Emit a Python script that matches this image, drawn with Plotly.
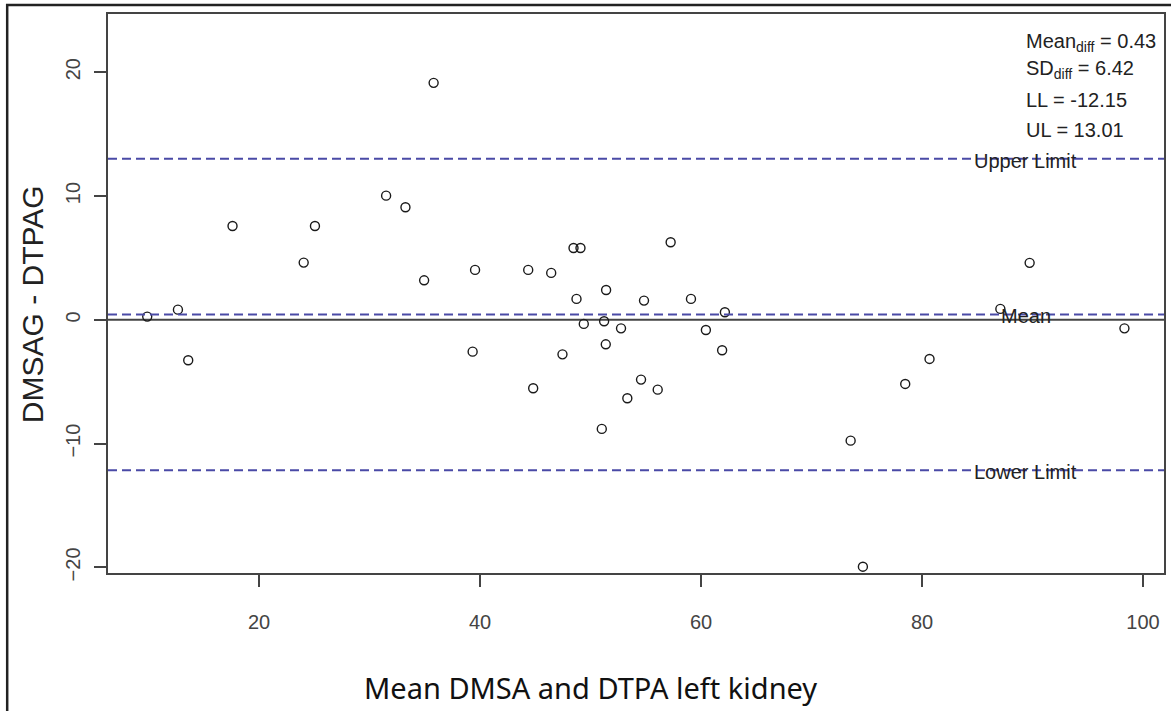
import plotly.graph_objects as go

# Bland-Altman data: mean of DMSA and DTPA (x) vs difference (y)
mean_vals = [35.8, 31.5, 33.25, 17.6, 25.06, 24.04, 34.94,
             57.25, 48.46, 49.09, 39.55, 44.36, 46.44, 51.41, 48.73, 54.84, 59.09,
             62.16, 49.39, 51.23, 52.76, 60.44, 39.33, 47.46, 51.38, 61.91,
             44.81, 54.57, 56.08, 53.33, 51.02,
             9.88, 12.66, 13.59,
             87.09, 98.32, 80.68, 78.48, 73.54, 74.65, 89.74]
diff_vals = [19.14, 10.03, 9.09, 7.58, 7.58, 4.62, 3.19,
             6.26, 5.80, 5.80, 4.03, 4.03, 3.79, 2.41, 1.69, 1.55, 1.69,
             0.61, -0.33, -0.12, -0.69, -0.82, -2.57, -2.79, -1.98, -2.46,
             -5.53, -4.83, -5.64, -6.34, -8.81,
             0.26, 0.82, -3.27,
             0.88, -0.69, -3.16, -5.18, -9.76, -19.94, 4.60]

mean_diff = 0.43
sd_diff = 6.42
lower_limit = -12.15
upper_limit = 13.01

x_ticks = [20, 40, 60, 80, 100]
y_ticks = [-20, -10, 0, 10, 20]
x_range = [6.33, 101.9]
y_range = [-20.45, 24.7]

label_x = 89.4
stats_lines = [f"Mean<sub>diff</sub> = {mean_diff:.2f}",
               f"SD<sub>diff</sub> = {sd_diff:.2f}",
               f"LL = {lower_limit:.2f}",
               f"UL = {upper_limit:.2f}"]
stats_y = [22.39, 20.2, 17.78, 15.36]

W, H = 1171, 711
ML, MR, MT, MB = 108, 5, 14, 138

fig = go.Figure()
fig.add_trace(go.Scatter(
    x=mean_vals, y=diff_vals, mode="markers",
    marker=dict(symbol="circle-open", size=9, color="#1a1a1a", line=dict(width=1.4)),
    showlegend=False, hoverinfo="x+y"))

dash_color = "#4a4aa6"
for yv in [upper_limit, mean_diff, lower_limit]:
    fig.add_shape(type="line", xref="paper", x0=0, x1=1, yref="y", y0=yv, y1=yv,
                  line=dict(color=dash_color, width=2, dash="9px,5px"), layer="above")
fig.add_shape(type="line", xref="paper", x0=0, x1=1, yref="y", y0=0, y1=0,
              line=dict(color="#444444", width=2), layer="below")

lab_font = dict(family="Liberation Sans, Arial, sans-serif", size=20, color="#222222")
for txt, yv in [("Upper Limit", upper_limit), ("Mean", mean_diff), ("Lower Limit", lower_limit)]:
    fig.add_annotation(x=label_x, y=yv, text=txt, showarrow=False, font=lab_font,
                       xanchor="center", yanchor="middle", yshift=-2)

for txt, yv in zip(stats_lines, stats_y):
    fig.add_annotation(x=label_x, y=yv, text=txt, showarrow=False,
                       font=dict(family="Liberation Sans, Arial, sans-serif", size=20, color="#222222"),
                       xanchor="left", yanchor="middle", xshift=-2)

# axis titles
pw = W - ML - MR
ph = H - MT - MB
fig.add_annotation(xref="paper", yref="paper", x=(591 - ML) / pw, y=0, yshift=-114,
                   text="Mean DMSA and DTPA left kidney", showarrow=False,
                   font=dict(family="Noto Sans, Open Sans, sans-serif", size=29, color="#111111"),
                   xanchor="center", yanchor="middle")
fig.add_annotation(xref="paper", yref="paper", x=(32 - ML) / pw, y=1 - (304 - MT) / ph,
                   text="DMSAG - DTPAG", showarrow=False, textangle=-90,
                   font=dict(family="Liberation Sans, Arial, sans-serif", size=30, color="#222222"),
                   xanchor="center", yanchor="middle")

# outer frame (left and top edges of the figure border)
fig.add_shape(type="path", xref="paper", yref="paper",
              path=f"M {(7 - ML) / pw} {-(H + 20 - MT - ph) / ph} L {(7 - ML) / pw} {1 + (MT - 5) / ph} L {1 + (MR + 20) / pw} {1 + (MT - 5) / ph}",
              line=dict(color="#222222", width=2.5))

axis_common = dict(showline=True, mirror=True, linecolor="#444444", linewidth=1.8,
                   ticks="outside", ticklen=12, tickwidth=1.5, tickcolor="#444444",
                   showgrid=False, zeroline=False,
                   tickfont=dict(family="Liberation Sans, Arial, sans-serif", size=20, color="#444444"))
fig.update_xaxes(range=x_range, tickvals=x_ticks, ticklabelstandoff=18, **axis_common)
fig.update_yaxes(range=y_range, tickvals=y_ticks, tickangle=-90, ticklabelstandoff=6, **axis_common)

fig.update_layout(width=W, height=H, margin=dict(l=ML, r=MR, t=MT, b=MB),
                  plot_bgcolor="white", paper_bgcolor="white")

fig.write_html("out.html", config={"displayModeBar": False},
               post_script="document.body.style.margin='0';document.body.style.overflow='hidden';")
